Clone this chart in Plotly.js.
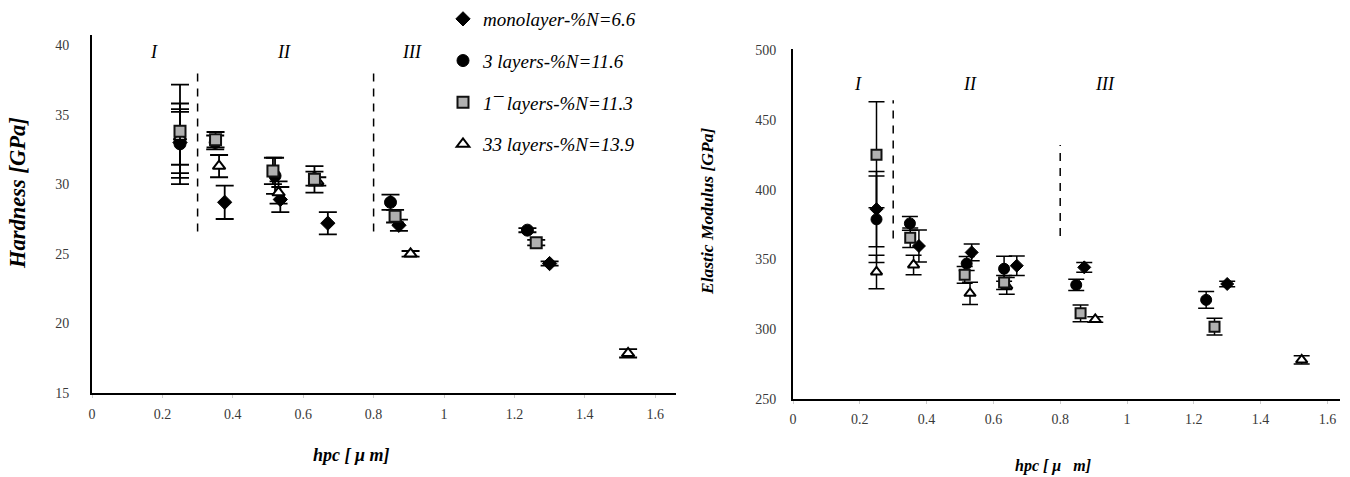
<!DOCTYPE html>
<html>
<head>
<meta charset="utf-8">
<script src="https://cdn.plot.ly/plotly-3.0.1.min.js"></script>
<style>html,body{margin:0;padding:0;background:#fff;}#chart{width:1350px;height:477px;}</style>
</head>
<body>
<div id="chart"></div>
<script>
// ---- data ----
const seriesNames = ["monolayer-%N=6.6", "3 layers-%N=11.6", "1\u00AF layers-%N=11.3", "33 layers-%N=13.9"];

const hpcMono = [0.25, 0.377, 0.535, 0.67, 0.872, 1.30];
const hpc3    = [0.25, 0.35, 0.52, 0.632, 0.848, 1.237];
const hpc17   = [0.25, 0.351, 0.514, 0.632, 0.861, 1.262];
const hpc33   = [0.25, 0.361, 0.53, 0.64, 0.905, 1.523];

const hardMono = [33.0, 28.7, 28.9, 27.2, 27.05, 24.3];
const hard3    = [32.9, 33.0, 30.6, 30.4, 28.7, 26.7];
const hard17   = [33.8, 33.2, 30.95, 30.35, 27.7, 25.8];
const hard33   = [33.4, 31.3, 29.4, 30.2, 25.0, 17.85];

const hardErrMono = [2.2, 1.2, 0.9, 0.8, 0.4, 0.15];
const hardErr3    = [2.9, 0.5, 1.3, 0.5, 0.55, 0.15];
const hardErr17   = [3.35, 0.55, 0.95, 0.95, 0.45, 0.2];
const hardErr33   = [2.0, 0.8, 0.8, 0.3, 0.2, 0.3];

const modMono = [386, 359.6, 355, 345.5, 344.3, 332.4];
const mod3    = [378.7, 375.8, 347, 343.3, 331.7, 321];
const mod17   = [425, 365.5, 339, 333.5, 311.4, 301.8];
const mod33   = [341, 346, 325.7, 331, 307, 278];

const modErrMono = [27, 11.5, 6, 7, 3.5, 2];
const modErr3    = [31, 5, 5, 9, 4, 6];
const modErr17   = [38, 7, 6, 5, 6, 6];
const modErr33   = [12, 7, 8, 6, 2, 3];

const regionBounds = [0.3, 0.8];
const regionLabels = ["I", "II", "III"];
const regionLabelXLeft  = [0.175, 0.546, 0.909];
const regionLabelXRight = [0.195, 0.53, 0.934];
const hardDashSpan = [26.6, 38.3];
const modDashSpans = [[365, 464], [366.8, 432]];

const xTicks = [0, 0.2, 0.4, 0.6, 0.8, 1, 1.2, 1.4, 1.6];

// ---- styles ----
const serif = "Liberation Serif, Times New Roman, serif";
const markerStyles = [
  {symbol: "diamond", size: 11, color: "#000", line: {color: "#000", width: 1}},
  {symbol: "circle", size: 12, color: "#000", line: {color: "#000", width: 1}},
  {symbol: "square", size: 11, color: "#b0b0b0", line: {color: "#111", width: 2}},
  {symbol: "triangle-up", size: 11, color: "#fff", line: {color: "#000", width: 2}}
];
const drawOrder = [0, 1, 3, 2]; // drawing order; legend order via legendrank

const hpcs = [hpcMono, hpc3, hpc17, hpc33];
const hards = [hardMono, hard3, hard17, hard33];
const hardErrs = [hardErrMono, hardErr3, hardErr17, hardErr33];
const mods = [modMono, mod3, mod17, mod33];
const modErrs = [modErrMono, modErr3, modErr17, modErr33];

const traces = [];
drawOrder.forEach(i => {
  traces.push({
    type: "scatter", mode: "markers", x: hpcs[i], y: hards[i],
    name: seriesNames[i], legendrank: i + 1, legendgroup: "g" + i,
    marker: markerStyles[i],
    error_y: {type: "data", array: hardErrs[i], visible: true, color: "#000", thickness: 1.8, width: 9},
    xaxis: "x", yaxis: "y", cliponaxis: false
  });
});
drawOrder.forEach(i => {
  traces.push({
    type: "scatter", mode: "markers", x: hpcs[i], y: mods[i],
    name: seriesNames[i], showlegend: false, legendgroup: "g" + i,
    marker: Object.assign({}, markerStyles[i], {size: markerStyles[i].size - 1}),
    error_y: {type: "data", array: modErrs[i], visible: true, color: "#000", thickness: 1.5, width: 8},
    xaxis: "x2", yaxis: "y2", cliponaxis: false
  });
});

// dashed region boundaries
const shapes = [];
regionBounds.forEach(b => {
  shapes.push({type: "line", xref: "x", yref: "y", x0: b, x1: b, y0: hardDashSpan[0], y1: hardDashSpan[1],
    line: {color: "#000", width: 1.5, dash: "8px,7px"}});
});
regionBounds.forEach((b, k) => {
  shapes.push({type: "line", xref: "x2", yref: "y2", x0: b, x1: b, y0: modDashSpans[k][0], y1: modDashSpans[k][1],
    line: {color: "#000", width: 1.5, dash: "8px,7px"}});
});

const annotations = [];
regionLabels.forEach((t, k) => {
  annotations.push({xref: "x", yref: "y", x: regionLabelXLeft[k], y: 39.5, text: t, showarrow: false,
    xanchor: "center", yanchor: "middle",
    font: {family: serif, size: 18, color: "#000", style: "italic"}});
  annotations.push({xref: "x2", yref: "y2", x: regionLabelXRight[k], y: 475.5, text: t, showarrow: false,
    xanchor: "center", yanchor: "middle",
    font: {family: serif, size: 18, color: "#000", style: "italic"}});
});
// axis titles
const titleFont = (s) => ({family: serif, size: s, color: "#000", weight: "bold", style: "italic"});
annotations.push({xref: "paper", yref: "paper", x: 17/1350, y: 1 - 193/477, text: "Hardness [GPa]", textangle: -90,
  xanchor: "center", yanchor: "middle", showarrow: false, font: titleFont(22.5)});
annotations.push({xref: "paper", yref: "paper", x: 351/1350, y: 1 - 455/477, text: "hpc [ \u03BC m]",
  xanchor: "center", yanchor: "middle", showarrow: false, font: titleFont(18)});
annotations.push({xref: "paper", yref: "paper", x: 707/1350, y: 1 - 212/477, text: "Elastic Modulus [GPa]", textangle: -90,
  xanchor: "center", yanchor: "middle", showarrow: false, font: titleFont(17.5)});
annotations.push({xref: "paper", yref: "paper", x: 1053/1350, y: 1 - 466/477, text: "hpc [ \u03BC&nbsp;&nbsp;&nbsp;m]",
  xanchor: "center", yanchor: "middle", showarrow: false, font: titleFont(16)});

const tickFont = {family: serif, size: 14, color: "#3a3a3a"};
const baseX = {
  tickmode: "array", tickvals: xTicks, showgrid: false, zeroline: false,
  showline: true, linecolor: "#000", linewidth: 2, ticks: "outside", ticklen: 3, tickcolor: "#ccc",
  tickfont: tickFont
};
const baseY = {
  showgrid: false, zeroline: false, showline: true, linecolor: "#000", linewidth: 2, ticks: "", tickfont: tickFont
};

const layout = {
  width: 1350, height: 477, margin: {l: 0, r: 0, t: 0, b: 0},
  paper_bgcolor: "#fff", plot_bgcolor: "#fff",
  showlegend: true,
  legend: {x: 443/1350, y: 1, xanchor: "left", yanchor: "top", bgcolor: "rgba(0,0,0,0)",
    font: {family: serif, size: 19, color: "#000", style: "italic"}, tracegroupgap: 14, traceorder: "grouped",
    itemwidth: 30},
  xaxis: Object.assign({}, baseX, {domain: [92/1350, 676/1350], range: [0, 584/352], anchor: "y", ticklabelstandoff: 4}),
  yaxis: Object.assign({}, baseY, {domain: [84/477, 442/477], range: [15, 40.72], dtick: 5, tick0: 15, anchor: "x", ticklabelstandoff: 18}),
  xaxis2: Object.assign({}, baseX, {domain: [793/1350, 1340/1350], range: [0, 547/334], anchor: "y2", ticklabelstandoff: 3}),
  yaxis2: Object.assign({}, baseY, {domain: [78/477, 427.7/477], range: [250, 500.5], dtick: 50, tick0: 250, anchor: "x2", ticklabelstandoff: 12}),
  shapes: shapes, annotations: annotations
};

Plotly.newPlot("chart", traces, layout, {staticPlot: true, displayModeBar: false});
</script>
</body>
</html>
